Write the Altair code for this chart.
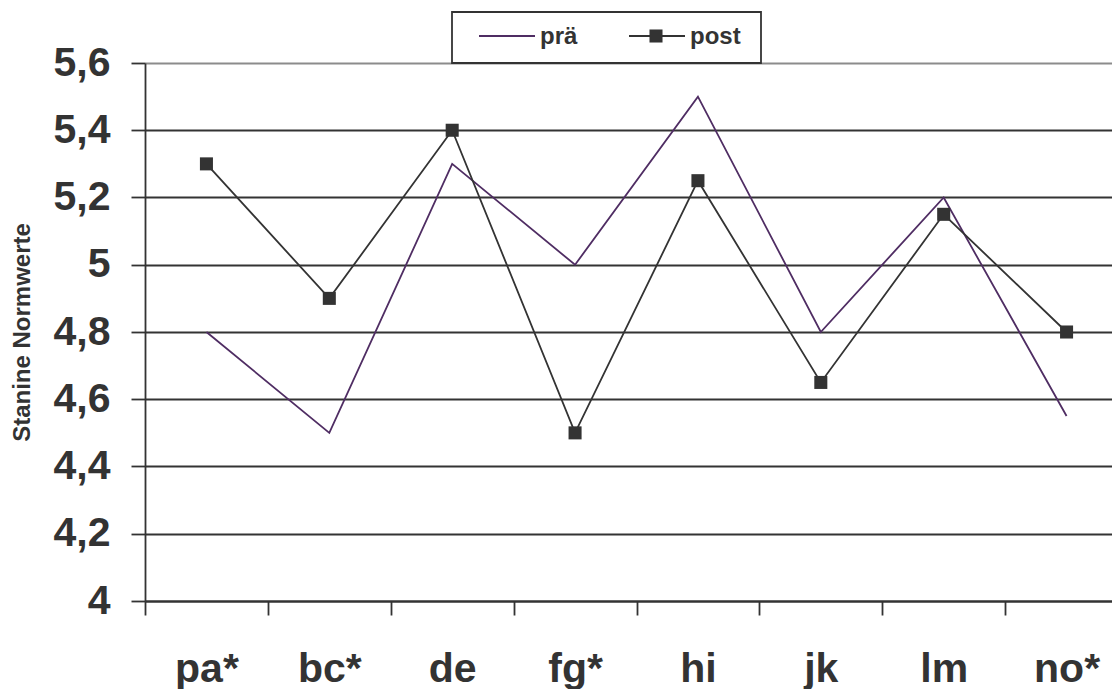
import altair as alt
import pandas as pd

categories = ["pa*", "bc*", "de", "fg*", "hi", "jk", "lm", "no*"]
series_names = ["prä", "post"]
pre_values = [4.8, 4.5, 5.3, 5.0, 5.5, 4.8, 5.2, 4.55]
post_values = [5.3, 4.9, 5.4, 4.5, 5.25, 4.65, 5.15, 4.8]
y_ticks = [4.0, 4.2, 4.4, 4.6, 4.8, 5.0, 5.2, 5.4, 5.6]
y_title = "Stanine Normwerte"

df = pd.DataFrame({
    "cat": categories * 2,
    "series": [series_names[0]] * len(categories) + [series_names[1]] * len(categories),
    "value": pre_values + post_values,
})

FONT = "Liberation Sans"
DARK = "#333333"
PURPLE = "#4f2d63"
LW = 1.8

xenc = alt.X("cat:N", sort=categories,
             scale=alt.Scale(type="band", paddingInner=0, paddingOuter=0),
             axis=alt.Axis(title=None, labelAngle=0, labelFontSize=41, labelFontWeight="bold",
                           labelColor=DARK, labelFont=FONT, labelPadding=34,
                           tickSize=14, tickColor=DARK, tickWidth=LW, tickBand="extent",
                           domainColor=DARK, domainWidth=LW, grid=False))
yenc = alt.Y("value:Q", scale=alt.Scale(domain=[4, 5.6], nice=False, zero=False),
             axis=alt.Axis(values=y_ticks, title=y_title,
                           labelExpr="replace(format(datum.value, '~g'), '.', ',')",
                           labelFontSize=41, labelFontWeight="bold", labelColor=DARK, labelFont=FONT,
                           labelPadding=21, tickSize=14, tickColor=DARK, tickWidth=LW,
                           domainColor=DARK, domainWidth=LW,
                           titleFontSize=24, titleFontWeight="bold", titleColor=DARK, titleFont=FONT,
                           titlePadding=19,
                           grid=True, gridWidth=LW,
                           gridColor={"condition": {"test": "datum.value > 5.5", "value": "#8c8c8c"},
                                      "value": DARK}))

base = alt.Chart(df)

pre_line = base.transform_filter(alt.datum.series == series_names[0]).mark_line(
    color=PURPLE, strokeWidth=LW).encode(x=xenc, y=yenc)
post_line = base.transform_filter(alt.datum.series == series_names[1]).mark_line(
    color=DARK, strokeWidth=LW).encode(x=xenc, y=yenc)
post_pts = base.transform_filter(alt.datum.series == series_names[1]).mark_point(
    shape="square", filled=True, color=DARK, size=170, opacity=1).encode(x=xenc, y=yenc)

one = alt.Data(values=[{"k": 1}])
leg_box = alt.Chart(one).mark_rect(fill="white", stroke=DARK, strokeWidth=LW).encode(
    x=alt.value(307), x2=alt.value(616), y=alt.value(-51), y2=alt.value(0))
leg_pre_line = alt.Chart(one).mark_rule(color=PURPLE, strokeWidth=LW).encode(
    x=alt.value(334), x2=alt.value(390), y=alt.value(-27))
leg_pre_text = alt.Chart(one).mark_text(align="left", baseline="middle", fontSize=24,
                                         fontWeight="bold", font=FONT, color=DARK).encode(
    x=alt.value(395), y=alt.value(-26), text=alt.value(series_names[0]))
leg_post_line = alt.Chart(one).mark_rule(color=DARK, strokeWidth=LW).encode(
    x=alt.value(484), x2=alt.value(540), y=alt.value(-27))
leg_post_pt = alt.Chart(one).mark_point(shape="square", filled=True, color=DARK, size=170,
                                         opacity=1).encode(x=alt.value(511), y=alt.value(-27))
leg_post_text = alt.Chart(one).mark_text(align="left", baseline="middle", fontSize=24,
                                          fontWeight="bold", font=FONT, color=DARK).encode(
    x=alt.value(545), y=alt.value(-26), text=alt.value(series_names[1]))

chart = alt.layer(pre_line, post_line, post_pts, leg_box, leg_pre_line, leg_pre_text,
                  leg_post_line, leg_post_pt, leg_post_text).properties(
    width=983, height=538,
    autosize=alt.AutoSizeParams(type="none"),
    padding={"left": 137, "top": 55, "right": -16, "bottom": 88},
).configure_view(stroke=None).configure(background="white")

chart.save("out.html", embed_options={"renderer": "svg", "actions": False})
